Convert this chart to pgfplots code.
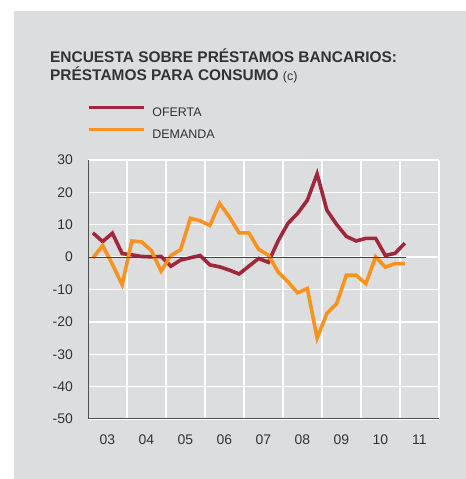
\documentclass[border=0pt]{standalone}
\usepackage{fontspec}
\setmainfont{Liberation Sans}
\usepackage{pgfplots}
\pgfplotsset{compat=1.18}

\definecolor{bggray}{HTML}{DCDDDF}
\definecolor{oferta}{HTML}{A0283C}
\definecolor{demanda}{HTML}{F7931E}
\definecolor{txt}{HTML}{333333}
\definecolor{spine}{HTML}{505050}

% quarterly data, x = year + (quarter - 0.5)/4
\pgfplotstableread{
x        of     de
2003.125  7.5  -0.3
2003.375  4.8   3.6
2003.625  7.4  -2.2
2003.875  1.1  -8.5
2004.125  0.7   5.0
2004.375  0.2   4.7
2004.625  0.1   2.0
2004.875  0.2  -4.3
2005.125 -2.8   0.5
2005.375 -0.9   2.3
2005.625 -0.2  12.0
2005.875  0.5  11.2
2006.125 -2.4   9.8
2006.375 -3.0  16.6
2006.625 -4.0  12.4
2006.875 -5.2   7.5
2007.125 -2.8   7.5
2007.375 -0.4   2.4
2007.625 -1.6   0.6
2007.875  5.0  -4.6
2008.125 10.4  -7.6
2008.375 13.5 -11.0
2008.625 17.6  -9.7
2008.875 25.7 -25.0
2009.125 14.5 -17.4
2009.375 10.1 -14.4
2009.625  6.4  -5.6
2009.875  5.0  -5.6
2010.125  5.8  -8.2
2010.375  5.8   0.1
2010.625  0.5  -3.1
2010.875  1.2  -2.0
2011.125  4.3  -2.0
}\encuesta

\begin{document}
\begin{tikzpicture}
  \fill[bggray] (14bp,0bp) rectangle (466bp,468bp);
  \path (0bp,0bp) rectangle (466bp,479bp);

  \node[anchor=base west, inner sep=0pt, text=txt,
        font=\fontsize{15.5}{18}\selectfont\bfseries] at (50bp,416bp)
        {ENCUESTA SOBRE PRÉSTAMOS BANCARIOS:};
  \node[anchor=base west, inner sep=0pt, text=txt,
        font=\fontsize{15.5}{18}\selectfont] at (50bp,398bp)
        {\textbf{PRÉSTAMOS PARA CONSUMO} {\fontsize{12.5}{14}\selectfont(c)}};

  \begin{axis}[
    at={(88bp,60bp)}, anchor=south west,
    scale only axis, width=351bp, height=259bp,
    xmin=2003, xmax=2012, ymin=-50, ymax=30,
    axis lines*=left,
    axis line style={spine, line width=1bp},
    major tick length=0pt,
    xtick={2004,...,2012}, xticklabels={},
    extra x ticks={2003.5,2004.5,...,2011.5},
    extra x tick labels={03,04,05,06,07,08,09,10,11},
    extra x tick style={grid=none},
    ytick={-50,-40,...,30},
    yticklabels={-50,-40,-30,-20,-10,0,10,20,30},
    grid=major,
    major grid style={white, line width=1.3bp},
    tick label style={text=txt, font=\fontsize{14}{16}\selectfont, inner sep=0pt},
    xticklabel style={anchor=north, yshift=-16bp},
    yticklabel style={anchor=east, xshift=-15bp},
    legend style={at={(axis description cs:-0.003,1.146)}, anchor=west,
      draw=none, fill=none, inner sep=0pt, row sep=11bp,
      font=\fontsize{12.5}{14}\selectfont, text=txt,
      nodes={inner sep=0pt, text height=9bp, text depth=0pt}},
    legend cell align=left,
    legend image code/.code={\draw[#1, line width=3.2bp] (0bp,4.5bp) -- (55bp,4.5bp);},
  ]
    \addplot[oferta, line width=3.6bp, line join=miter] table[x=x, y=of] {\encuesta};
    \addlegendentry{\hspace{7bp}OFERTA}
    \addplot[demanda, line width=3.6bp, line join=miter] table[x=x, y=de] {\encuesta};
    \addlegendentry{\hspace{7bp}DEMANDA}
    \addplot[black!75, line width=0.9bp, forget plot] coordinates {(2003,0) (2011.15,0)};
  \end{axis}
\end{tikzpicture}
\end{document}
